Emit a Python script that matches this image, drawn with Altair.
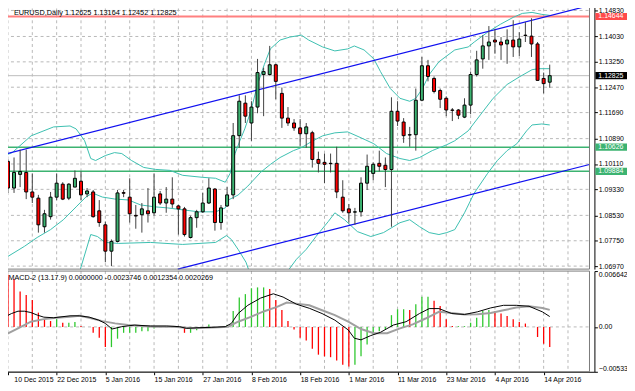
import altair as alt
import pandas as pd

# ---------------- price data (bar 0 = 10 Dec 2015 ... bar 89 = 15 Apr 2016) -------------
opens = [1.1019,1.0937,1.0979,1.0985,1.0925,1.0906,1.0818,1.0849,1.0909,1.0949,
         1.0906,1.0940,1.0958,1.0919,1.0925,1.0867,1.0824,1.0743,1.0773,1.0923,
         1.0909,1.0853,1.0855,1.0867,1.0861,1.0919,1.0891,1.0903,1.0882,1.0873,
         1.0785,1.0846,1.0864,1.0891,1.0934,1.0831,1.0882,1.0916,1.1098,1.1198,
         1.1137,1.1186,1.1286,1.1286,1.1316,1.1228,1.1152,1.1137,1.1122,1.1104,
         1.1107,1.1025,1.1016,1.1013,1.1013,1.0909,1.0873,1.0863,1.0864,1.0952,
         1.0982,1.1013,1.1007,1.0994,1.1173,1.1140,1.1100,1.1101,1.1207,1.1313,
         1.1274,1.1237,1.1213,1.1177,1.1177,1.1155,1.1192,1.1286,1.1334,1.1374,
         1.1392,1.1386,1.1380,1.1392,1.1371,1.1407,1.1404,1.1380,1.1274,1.12625]
highs = [1.1025,1.1031,1.1055,1.1055,1.0982,1.0916,1.0870,1.0925,1.0982,1.0955,
         1.0952,1.0991,1.0988,1.0937,1.0931,1.0900,1.0834,1.0779,1.0931,1.0931,
         1.0967,1.0885,1.0891,1.0937,1.0982,1.0928,1.0940,1.0970,1.0885,1.0879,
         1.0852,1.0870,1.0922,1.0967,1.0937,1.0885,1.0940,1.1137,1.1222,1.1222,
         1.1204,1.1334,1.1307,1.1374,1.1319,1.1246,1.1186,1.1149,1.1149,1.1137,
         1.1113,1.1049,1.1043,1.1043,1.1064,1.0961,1.0888,1.0876,1.0970,1.1040,
         1.1016,1.1052,1.1031,1.1216,1.1204,1.1152,1.1125,1.1243,1.1340,1.1331,
         1.1280,1.1243,1.1219,1.1183,1.1180,1.1213,1.1295,1.1359,1.1407,1.1435,
         1.1425,1.1401,1.1425,1.1453,1.1416,1.1447,1.1459,1.1386,1.1292,1.13164]
lows = [1.0922,1.0922,1.0940,1.0903,1.0891,1.0800,1.0800,1.0840,1.0900,1.0900,
        1.0900,1.0940,1.0900,1.0909,1.0846,1.0818,1.0709,1.0697,1.0770,1.0909,
        1.0831,1.0812,1.0800,1.0831,1.0852,1.0885,1.0861,1.0876,1.0794,1.0788,
        1.0782,1.0815,1.0861,1.0888,1.0806,1.0809,1.0879,1.0903,1.1061,1.1137,
        1.1082,1.1167,1.1158,1.1283,1.1210,1.1122,1.1128,1.1113,1.1067,1.1061,
        1.1000,1.0985,1.0952,1.0985,1.0906,1.0861,1.0831,1.0824,1.0849,1.0931,
        1.0961,1.0988,1.0940,1.0818,1.1128,1.1076,1.1064,1.1052,1.1204,1.1265,
        1.1228,1.1183,1.1158,1.1143,1.1149,1.1152,1.1164,1.1280,1.1304,1.1331,
        1.1350,1.1331,1.1319,1.1340,1.1343,1.1386,1.1340,1.1268,1.1228,1.12452]
closes = [1.0937,1.0985,1.0988,1.0925,1.0909,1.0824,1.0858,1.0909,1.0952,1.0903,
          1.0949,1.0967,1.0916,1.0928,1.0849,1.0831,1.0743,1.0773,1.0922,1.0921,
          1.0858,1.0851,1.0873,1.0858,1.0909,1.0891,1.0903,1.0888,1.0873,1.0794,
          1.0846,1.0864,1.0891,1.0937,1.0831,1.0876,1.0916,1.1098,1.1204,1.1158,
          1.1186,1.1292,1.1295,1.1316,1.1265,1.1152,1.1137,1.1122,1.1104,1.1125,
          1.1025,1.1013,1.1010,1.1012,1.0925,1.0867,1.0861,1.0864,1.0952,1.1004,
          1.1010,1.1004,1.0994,1.1173,1.1143,1.1098,1.1101,1.1207,1.1313,1.1280,
          1.1234,1.1210,1.1177,1.1176,1.1161,1.1192,1.1286,1.1331,1.1374,1.1386,
          1.1386,1.1377,1.1392,1.1371,1.1395,1.1406,1.1380,1.1268,1.1258,1.12825]

date_labels = ["10 Dec 2015", "22 Dec 2015", "5 Jan 2016", "15 Jan 2016", "27 Jan 2016",
               "8 Feb 2016", "18 Feb 2016", "1 Mar 2016", "11 Mar 2016", "23 Mar 2016",
               "4 Apr 2016", "14 Apr 2016"]
date_label_bars = [0, 8, 16, 24, 32, 40, 48, 56, 64, 72, 80, 88]
grid_bars = [0, 4, 8, 12, 16, 20, 24, 28, 32, 36, 40, 44, 48, 52, 56, 60, 64, 68, 72, 76, 80, 84, 88, 92]
price_ticks = [1.14830, 1.14030, 1.13250, 1.12470, 1.11690, 1.10890,
               1.10110, 1.09330, 1.08530, 1.07750, 1.06970]

# Bollinger bands
bb_upper_x = [-0.5,0.7,3.8,7.5,10.2,11.2,12.6,13.6,14.4,16,17.5,18.7,20.3,22.3,24.2,26.6,28.7,31.9,
              34.1,35.7,36.5,37.3,38.1,38.9,39.9,41,42.1,43.1,44.7,46.3,48.2,49.4,51.7,53.7,55.8,
              56.9,58.5,60.1,61.2,62.8,64.4,66,67,68.1,69.2,70.8,72.1,73.4,75.6,76.6,78.8,80.9,
              83,84.5,86.1,87.7,89]
bb_upper = [1.10369,1.10460,1.10976,1.11249,1.11279,1.11188,1.10824,1.10278,1.10217,1.10369,
            1.10460,1.10430,1.10217,1.10004,1.09944,1.09914,1.09762,1.09701,1.09671,1.09549,
            1.09823,1.10430,1.10824,1.11188,1.11734,1.12554,1.13161,1.13647,1.13920,1.14011,
            1.14071,1.13920,1.13707,1.13586,1.13647,1.13738,1.13616,1.13343,1.12949,1.12432,
            1.12129,1.12038,1.12129,1.12432,1.12858,1.13252,1.13434,1.13616,1.13707,1.13859,
            1.14163,1.14405,1.14618,1.14739,1.14770,1.14709,1.14679]
bb_mid_x = [-0.5,2.7,4.8,7,9.1,11.2,12.8,13.9,15.5,17.5,19.8,21.8,24.2,26.2,28.7,31.4,34.1,35.7,
            36.2,37.8,39.4,41.5,43.1,44.7,46.9,48.2,50.1,51.7,53.7,55.8,58,60.1,62.2,64.4,66,
            67.6,69.7,72.1,73.4,75.6,77.7,79.7,82,84.1,86.1,87.2,89]
bb_mid = [1.07212,1.07577,1.07850,1.08093,1.08396,1.08791,1.09094,1.09216,1.09094,1.09034,
          1.09003,1.08851,1.08791,1.08760,1.08700,1.08639,1.08639,1.08760,1.09003,1.09155,
          1.09428,1.09853,1.10096,1.10308,1.10521,1.10612,1.10824,1.10976,1.11067,1.11097,
          1.10915,1.10733,1.10430,1.10278,1.10217,1.10308,1.10521,1.10703,1.10824,1.11128,
          1.11643,1.12129,1.12554,1.12797,1.13009,1.13040,1.13040]
# lower band leaves the price panel twice, so it is kept as two visible pieces
bb_lower_a_x = [11.9,13.6,14.7,16,18.2,23.4,28.7,34.1,35.9,36.7,37.8,39.1,39.5]
bb_lower_a = [1.06879,1.07941,1.07880,1.07698,1.07668,1.07698,1.07637,1.07698,1.07910,1.07789,
              1.07486,1.07091,1.06879]
bb_lower_b_x = [46.2,47.4,49,50.6,52.6,53.7,55.3,57.4,59.6,61.7,64.4,66,67.6,69.2,70.8,72.1,73.4,
                75,76.6,78.8,80.4,82,83.6,85.2,86.1,87.7,89]
bb_lower_b = [1.06879,1.07182,1.07486,1.07880,1.08336,1.08608,1.08396,1.08032,1.07880,1.08001,
              1.08305,1.08396,1.08184,1.08001,1.07941,1.08001,1.08093,1.08608,1.09216,1.09823,
              1.10217,1.10521,1.10733,1.11128,1.11310,1.11340,1.11310]

# trend channel and horizontal levels
chan_upper_x = [-0.48, 95.53]
chan_upper = [1.10414, 1.14980]
chan_lower_x = [27.9, 95.53]
chan_lower = [1.06879, 1.10094]
red_level = 1.14644
green_levels = [1.10626, 1.09884]
last_price = 1.12825

# ---------------- MACD panel data (histogram in 1e-4 units) -------------
macd_hist = [62,57,42,38,32,17,9,7,9,5,5,6,1,0,-7,-13,-24,-24,-14,-7,
             -7,-7,-5,-5,-2,0,0,0,-1,-7,-7,-4,0,3,0,0,2,19,35,39,
             46,47,47,45,32,20,7,-3,-13,-16,-26,-33,-35,-36,-40,-45,-47,-45,-35,-21,
             -9,-5,-3,14,21,21,20,27,36,36,31,25,9,1,1,1,5,11,19,20,
             19,16,13,9,6,4,0,-12,-20,-23.746]
macd_x = [-0.48,0.58,1.65,2.71,3.77,4.84,5.9,7.5,10.2,11.75,13.35,14.9,16,17.1,18.7,20.8,23.4,26.1,
          28.2,29.3,31.4,33.5,35.7,36.7,37.8,39.4,41.5,43.6,45.2,47.4,49.5,51.6,53.7,55.9,56.9,
          58,59.6,61.2,63.3,65.4,67.6,69.2,70.8,72.9,75,77.1,79.3,81.4,83.5,85.6,87.8,89]
macd_line = [12.0,15.9,18.7,18.7,17.1,14.0,11.6,10.9,13.2,13.2,11.6,8.1,4.2,-2.5,0.3,2.2,1.1,1.1,
             0.3,-1.7,-0.9,-0.5,0.3,4.2,15.9,25.7,34.3,39.4,35.5,27.0,22.2,15.9,8.1,-3.6,-13.4,
             -15.4,-10.3,-6.4,2.2,6.2,15.9,21.8,21.8,15.9,14.8,17.9,22.6,25.7,25.7,24.6,17.9,12.354]
signal_x = [-0.48,1.65,3.77,5.9,8,10.2,11.75,13.35,15.5,17.6,19.7,21.9,24,27.2,30.4,32.5,34.6,36.2,
            37.8,39.9,42.1,44.2,45.8,47.4,49.5,51.6,53.7,55.9,58,60.1,62.3,64.4,66.5,68.6,70.8,
            72.9,75,77.1,79.3,81.4,83.5,85.6,87.8,89]
signal_line = [-9.5,-1.7,6.2,9.3,10.9,12.0,13.2,10.9,6.9,4.2,2.2,1.1,0.3,0.3,-1.7,-0.9,-0.5,0.3,
               6.2,12.0,18.7,23.8,28.9,27.7,25.7,19.8,14.0,6.2,-2.5,-7.5,-7.5,-1.7,3.0,10.0,17.9,
               16.5,14.8,15.2,16.5,19.8,23.0,24.5,22.5,20.269]
macd_ticks = [-0.005334, 0.0, 0.006642]

# ---------------- tables -------------
n = len(opens)
candles = pd.DataFrame({"i": list(range(n)), "o": opens, "h": highs, "l": lows, "c": closes})
candles["dir"] = ["up" if c >= o else "down" for o, c in zip(opens, closes)]

bb = pd.concat([
    pd.DataFrame({"i": bb_upper_x, "v": bb_upper, "band": "upper"}),
    pd.DataFrame({"i": bb_mid_x, "v": bb_mid, "band": "mid"}),
    pd.DataFrame({"i": bb_lower_a_x, "v": bb_lower_a, "band": "lower_a"}),
    pd.DataFrame({"i": bb_lower_b_x, "v": bb_lower_b, "band": "lower_b"}),
])
chan = pd.concat([
    pd.DataFrame({"i": chan_upper_x, "v": chan_upper, "name": "u"}),
    pd.DataFrame({"i": chan_lower_x, "v": chan_lower, "name": "l"}),
])
boxes = pd.DataFrame({
    "v": [red_level, last_price, green_levels[0], green_levels[1]],
    "label": ["%.5f" % red_level, "%.5f" % last_price, "%.5f" % green_levels[0], "%.5f" % green_levels[1]],
    "bg": ["#FF4A4A", "#000000", "#3CB371", "#3CB371"],
})

hist_vals = [h * 1e-4 for h in macd_hist]
hist_cols = []
for k, h in enumerate(hist_vals):
    prev = hist_vals[k - 1] if k > 0 else h + 1e-4
    hist_cols.append("#FF0000" if h < prev else "#2EC82E")
hist = pd.DataFrame({"i": list(range(n)), "h": hist_vals, "col": hist_cols})
macd_df = pd.DataFrame({"i": macd_x, "v": [m * 1e-4 for m in macd_line]})
sig_df = pd.DataFrame({"i": signal_x, "v": [m * 1e-4 for m in signal_line]})

# ---------------- scales (pixel ranges place the two panels like the terminal) -------------
FONT = "Liberation Sans"
X0, X1 = -0.4785, 95.53
P_LO, P_HI = 1.068785, 1.15073
M_LO, M_HI = -0.005334, 0.006642
xs = alt.Scale(domain=[X0, X1], range=[-8, 594], nice=False, zero=False)
ps = alt.Scale(domain=[P_LO, P_HI], range=[262, -8], nice=False, zero=False)
ms = alt.Scale(domain=[M_LO, M_HI], range=[366, 264], nice=False, zero=False)

p_axis = alt.Axis(orient="right", offset=-33, values=price_ticks, format=".5f", grid=False,
                  domainColor="#000000", tickColor="#000000", tickSize=3, labelFont=FONT,
                  labelFontSize=7, labelColor="#000000", labelPadding=1, title=None,
                  labelOverlap=False, labelFlush=False)
lab_expr = "[" + ",".join("'%s'" % d for d in date_labels) + "][round(datum.value / 8)]"
d_axis = alt.Axis(orient="bottom", offset=-17, values=date_label_bars, labelExpr=lab_expr, grid=False,
                  tickSize=3, tickColor="#000000", domainColor="#000000", labelAlign="left",
                  labelBaseline="top", labelPadding=1, labelFont=FONT, labelFontSize=7,
                  labelColor="#000000", title=None, labelOverlap=False, labelFlush=False,
                  labelOffset={"condition": {"test": "datum.value == 0", "value": 6}, "value": 0})
m_axis = alt.Axis(orient="right", offset=-33, values=macd_ticks,
                  labelExpr="datum.value == 0 ? '0.00' : format(datum.value, '.6f')",
                  grid=False, tickSize=3, tickColor="#000000", domainColor="#000000",
                  labelFont=FONT, labelFontSize=7, labelColor="#000000", labelPadding=1,
                  labelFlush=True, title=None, labelOverlap=False)


def PX(f):
    return alt.X(f, type="quantitative", scale=xs, axis=d_axis)


def PY(f):
    return alt.Y(f, type="quantitative", scale=ps, axis=p_axis)


def MX(f):
    return alt.X(f, type="quantitative", scale=xs, axis=d_axis)


def MY(f):
    return alt.Y(f, type="quantitative", scale=ms, axis=m_axis)


GRID = "#B8B8B8"
grid_df = pd.DataFrame({"g": grid_bars, "p_top": P_HI, "p_bot": P_LO, "m_top": M_HI, "m_bot": M_LO})
hgrid_df = pd.DataFrame({"v": price_ticks, "x0": X0, "x1": X1})
frame_df = pd.DataFrame({"x0": [X0], "x1": [X1], "p_top": [P_HI], "p_bot": [P_LO],
                         "m_top": [M_HI], "m_bot": [M_LO]})

# ---------------- price panel -------------
hgrid = alt.Chart(hgrid_df).mark_rule(color=GRID, strokeDash=[3, 3], strokeWidth=1).encode(
    x=PX("x0"), x2="x1", y=PY("v"))
vgrid = alt.Chart(grid_df).mark_rule(color=GRID, strokeDash=[3, 3], strokeWidth=1).encode(
    x=PX("g"), y=PY("p_top"), y2="p_bot")
lines_df = pd.DataFrame({"v": [last_price, red_level, green_levels[0], green_levels[1]],
                         "kind": ["cur", "red", "green", "green"], "x0": X0, "x1": X1})
cur_line = alt.Chart(lines_df).transform_filter("datum.kind == 'cur'").mark_rule(
    color="#BDBDBD", strokeWidth=1).encode(x=PX("x0"), x2="x1", y=PY("v"))
red_line = alt.Chart(lines_df).transform_filter("datum.kind == 'red'").mark_rule(
    color="#FF8080", strokeWidth=2).encode(x=PX("x0"), x2="x1", y=PY("v"))
green_lines = alt.Chart(lines_df).transform_filter("datum.kind == 'green'").mark_rule(
    color="#3CB371", strokeWidth=1.5).encode(x=PX("x0"), x2="x1", y=PY("v"))
bb_lines = alt.Chart(bb).mark_line(color="#3BBFB0", strokeWidth=1).encode(
    x=PX("i"), y=PY("v"), detail="band:N")
chan_lines = alt.Chart(chan).mark_line(color="#1010F0", strokeWidth=1.2).encode(
    x=PX("i"), y=PY("v"), detail="name:N")
wicks = alt.Chart(candles).mark_rule(color="#404040", strokeWidth=1).encode(
    x=PX("i"), y=PY("l"), y2="h")
bodies = alt.Chart(candles).mark_bar(size=3, stroke="#000000", strokeWidth=1).encode(
    x=PX("i"), y=PY("o"), y2="c",
    color=alt.Color("dir:N", scale=alt.Scale(domain=["up", "down"], range=["#3CB371", "#FF0000"]),
                    legend=None))
frame_p = alt.Chart(frame_df).mark_rect(fillOpacity=0, stroke="#7A7A7A", strokeWidth=1).encode(
    x=PX("x0"), x2="x1", y=PY("p_top"), y2="p_bot")
box_rects = alt.Chart(boxes).transform_calculate(
    top="datum.v + 0.0011", bot="datum.v - 0.0011").mark_rect().encode(
    x=alt.value(595), x2=alt.value(630), y=PY("top:Q"), y2="bot:Q",
    color=alt.Color("bg:N", scale=None))
box_texts = alt.Chart(boxes).mark_text(align="left", baseline="middle", font=FONT, fontSize=7,
                                       color="white").encode(
    x=alt.value(598), y=PY("v"), text="label:N")
title_df = pd.DataFrame({"t": ["EURUSD,Daily  1.12625 1.13164 1.12452 1.12825"]})
title_txt = alt.Chart(title_df).mark_text(align="left", baseline="alphabetic", font=FONT, fontSize=7.4,
                                          color="#000000").encode(
    x=alt.value(6), y=alt.value(5), text="t:N")

price = alt.layer(hgrid, vgrid, cur_line, green_lines, red_line, bb_lines, chan_lines, wicks, bodies,
                  frame_p, box_rects, box_texts, title_txt)

# ---------------- MACD panel -------------
vgrid2 = alt.Chart(grid_df).mark_rule(color=GRID, strokeDash=[3, 3], strokeWidth=1).encode(
    x=MX("g"), y=MY("m_top"), y2="m_bot")
zero_df = pd.DataFrame({"z": [0.0], "x0": [X0], "x1": [X1]})
zero_line = alt.Chart(zero_df).mark_rule(color=GRID, strokeDash=[3, 3], strokeWidth=1).encode(
    x=MX("x0"), x2="x1", y=MY("z"))
hist_bars = alt.Chart(hist).mark_rule(strokeWidth=1.3).encode(
    x=MX("i"), y=MY("h"), y2=alt.datum(0), color=alt.Color("col:N", scale=None))
sig_ln = alt.Chart(sig_df).mark_line(color="#A0A0A0", strokeWidth=2).encode(x=MX("i"), y=MY("v"))
macd_ln = alt.Chart(macd_df).mark_line(color="#000000", strokeWidth=1).encode(x=MX("i"), y=MY("v"))
frame_m = alt.Chart(frame_df).mark_rect(fillOpacity=0, stroke="#7A7A7A", strokeWidth=1).encode(
    x=MX("x0"), x2="x1", y=MY("m_top"), y2="m_bot")
mtitle_df = pd.DataFrame({"t": ["MACD-2 (13.17.9) 0.0000000 -0.0023746 0.0012354 0.0020269"]})
mtitle = alt.Chart(mtitle_df).mark_text(align="left", baseline="alphabetic", font=FONT, fontSize=7.3,
                                        color="#000000").encode(
    x=alt.value(0.5), y=alt.value(273), text="t:N")

macd = alt.layer(vgrid2, zero_line, hist_bars, sig_ln, macd_ln, frame_m, mtitle)

chart = alt.layer(price, macd).resolve_scale(y="independent", color="independent").properties(
    width=627, height=383, padding=0, background="white",
    autosize=alt.AutoSizeParams(type="none", contains="padding"),
).configure_view(stroke=None)

chart.save("out.html", embed_options={"renderer": "svg", "actions": False})
